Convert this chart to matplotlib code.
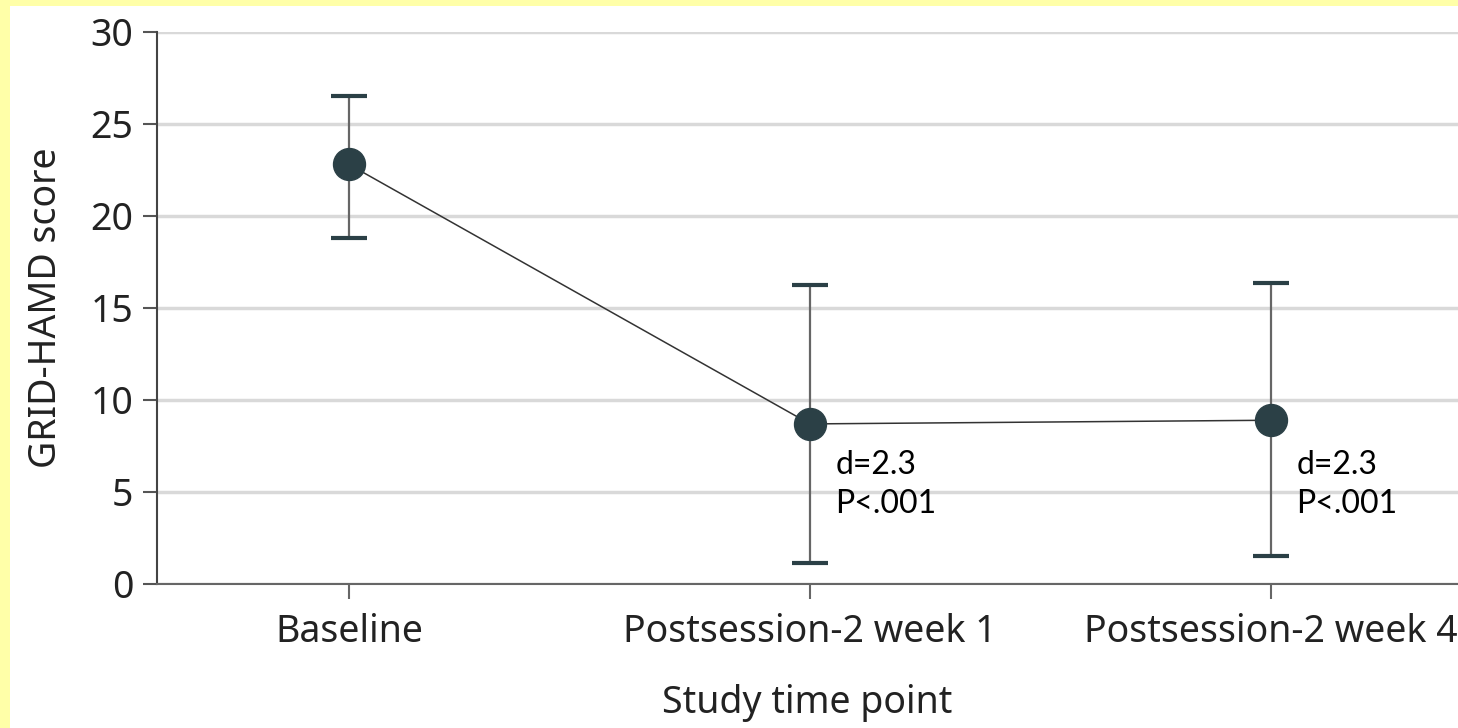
"""
GRID-HAMD score over study time points.
"""

import matplotlib.pyplot as plt
from matplotlib.patches import Rectangle

# ===================================
# Data
# ===================================
time_points = ["Baseline", "Postsession-2 week 1", "Postsession-2 week 4"]
mean_score = [22.8, 8.7, 8.9]
upper_ci = [26.5, 16.25, 16.35]
lower_ci = [18.8, 1.15, 1.5]
annot_text = ["", "d=2.3\nP<.001", "d=2.3\nP<.001"]

yticks = [0, 5, 10, 15, 20, 25, 30]

font = ["Noto Sans", "DejaVu Sans"]
annot_font = ["Lato", "DejaVu Sans"]

dark = "#2b4046"

fig = plt.figure(figsize=(14.58, 7.28), dpi=100)
fig.patch.set_facecolor("white")

# yellow frame strips (left and top)
for rect in [(0, 0, 10 / 1458, 1), (0, 1 - 6 / 728, 1, 6 / 728)]:
    fig.add_artist(
        Rectangle(rect[:2], rect[2], rect[3], transform=fig.transFigure,
                  facecolor="#ffffa8", edgecolor="none", zorder=-10)
    )

ax = fig.add_axes([157 / 1458, 144 / 728, 1 - 157 / 1458, 552 / 728])
ax.set_facecolor("none")

x = list(range(len(time_points)))
yerr = [
    [m - lo for m, lo in zip(mean_score, lower_ci)],
    [hi - m for m, hi in zip(mean_score, upper_ci)],
]

# connecting line
ax.plot(x, mean_score, color="#333333", linewidth=1.1, zorder=3)

# error bars
eb = ax.errorbar(
    x, mean_score, yerr=yerr,
    fmt="none", ecolor="#666666", elinewidth=1.6,
    capsize=13, capthick=3, zorder=2
)
for cap in eb[1]:
    cap.set_markeredgecolor(dark)

# points
ax.plot(x, mean_score, "o", color=dark, markersize=23, zorder=4)

# d / P annotations, both at the same height
for xi, t in zip(x, annot_text):
    if t:
        ax.text(xi + 0.055, 7.3, t, fontsize=23, family=annot_font,
                va="top", ha="left", color="black", linespacing=1.4)

ax.set_xlim(-0.4165, 2.4057)
ax.set_ylim(0, 30)
ax.set_yticks(yticks)
ax.set_xticks(x)
ax.set_xticklabels(time_points, family=font, fontsize=27, color="#222222")
ax.set_yticklabels([str(v) for v in yticks], family=font, fontsize=27,
                   color="#222222")

ax.grid(axis="y", color="#d9d9d9", linewidth=2.5, zorder=0)
ax.set_axisbelow(True)

for s in ["top", "right"]:
    ax.spines[s].set_visible(False)
ax.spines["left"].set_color("#444444")
ax.spines["left"].set_linewidth(1.5)
ax.spines["bottom"].set_color("#666666")
ax.spines["bottom"].set_linewidth(1.5)
ax.tick_params(axis="y", length=10, width=1.5, color="#555555", pad=7)
ax.tick_params(axis="x", length=11, width=1.5, color="#666666", pad=10)

ax.set_ylabel("GRID-HAMD score", family=font, fontsize=27, color="#222222",
              labelpad=18)
ax.set_xlabel("Study time point", family=font, fontsize=27, color="#222222",
              labelpad=24)

plt.savefig("out.png", dpi=100)
